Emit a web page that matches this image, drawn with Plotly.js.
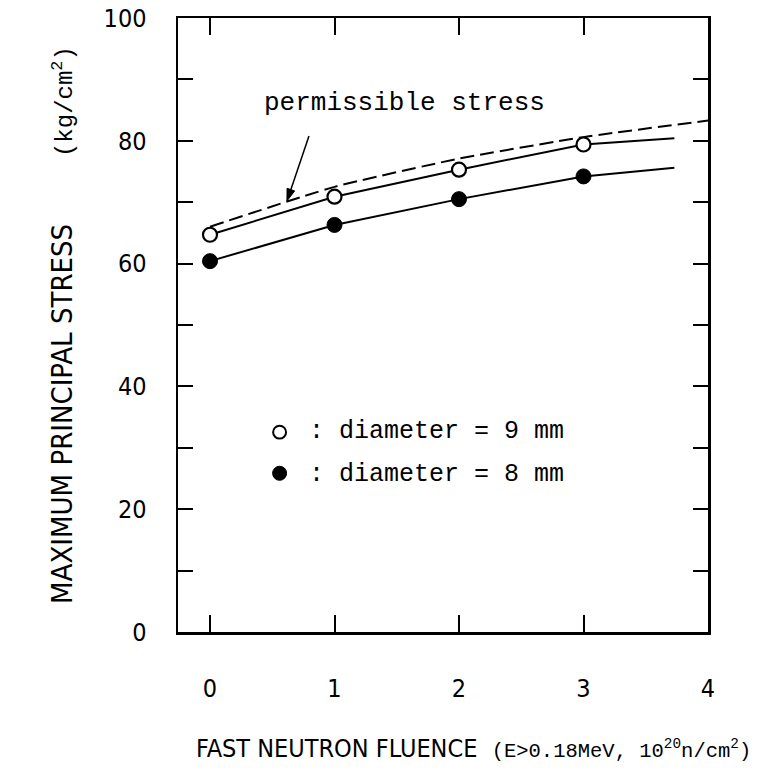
<!DOCTYPE html>
<html>
<head>
<meta charset="utf-8">
<script src="https://cdn.plot.ly/plotly-3.0.1.min.js"></script>
<style>html,body{margin:0;padding:0;background:#fff;}#chart{width:771px;height:774px;}</style>
</head>
<body>
<div id="chart"></div>
<script>
// Fast neutron fluence (10^20 n/cm^2)
const fluence = [0, 1, 2, 3];
const fluenceLineEnd = 3.73;            // solid curves continue past the last point
const stress9mm = [64.7, 70.9, 75.3, 79.4];
const stress9mmEnd = 80.4;
const stress8mm = [60.4, 66.3, 70.5, 74.2];
const stress8mmEnd = 75.6;
const permFluence = [0, 1, 2, 3, 4];
const permStress = [66.0, 72.5, 77.1, 80.6, 83.3];
const xTicks = [0, 1, 2, 3, 4];

const SANS = "'DejaVu Sans Condensed', 'Liberation Sans Narrow', 'DejaVu Sans', sans-serif";
const MONO = "'Liberation Mono', 'DejaVu Sans Mono', monospace";

const traces = [
  {
    x: permFluence, y: permStress, mode: 'lines', type: 'scatter',
    line: {color: '#000', width: 2, dash: '14px,6px', shape: 'spline', smoothing: 0.5},
    hoverinfo: 'skip', showlegend: false
  },
  {
    x: fluence.concat([fluenceLineEnd]), y: stress9mm.concat([stress9mmEnd]),
    mode: 'lines+markers', type: 'scatter',
    line: {color: '#000', width: 2},
    marker: {symbol: 'circle', size: fluence.map(() => 14).concat([0]), color: '#fff', opacity: 1,
             line: {color: '#000', width: 2.2}},
    showlegend: false
  },
  {
    x: fluence.concat([fluenceLineEnd]), y: stress8mm.concat([stress8mmEnd]),
    mode: 'lines+markers', type: 'scatter',
    line: {color: '#000', width: 2},
    marker: {symbol: 'circle', size: fluence.map(() => 15).concat([0]), color: '#000', opacity: 1,
             line: {color: '#000', width: 1}},
    showlegend: false
  }
];

// arrow pointing from the "permissible stress" label to the dashed curve
const arrowTail = {x: 0.795, y: 80.8};
const arrowHead = {x: 0.618, y: 70.2};

const layout = {
  width: 771, height: 774,
  margin: {l: 178, r: 63, t: 18, b: 142},
  paper_bgcolor: '#fff', plot_bgcolor: '#fff',
  showlegend: false,
  font: {family: SANS, color: '#000', size: 25},
  xaxis: {
    range: [-0.257, 4], tickvals: xTicks, ticktext: xTicks.map(String),
    ticks: 'inside', ticklen: 17, tickwidth: 2, tickcolor: '#000',
    showline: true, linewidth: 2.5, linecolor: '#000', mirror: 'ticks',
    showgrid: false, zeroline: false, ticklabelstandoff: 32,
    tickfont: {family: SANS, size: 25, color: '#000'}
  },
  yaxis: {
    range: [0, 100], tick0: 0, dtick: 20,
    ticks: 'inside', ticklen: 15, tickwidth: 2, tickcolor: '#000',
    minor: {dtick: 10, ticks: 'inside', ticklen: 15, tickwidth: 2, tickcolor: '#000', showgrid: false},
    showline: true, linewidth: 2.5, linecolor: '#000', mirror: 'ticks',
    showgrid: false, zeroline: false, ticklabelstandoff: 24,
    tickfont: {family: SANS, size: 25, color: '#000'}
  },
  shapes: [
    {type: 'circle', xref: 'x', yref: 'y', x0: 0.507, x1: 0.611, y0: 31.5, y1: 33.6,
     line: {color: '#000', width: 2}, fillcolor: '#fff'},
    {type: 'circle', xref: 'x', yref: 'y', x0: 0.503, x1: 0.615, y0: 24.7, y1: 27.0,
     line: {color: '#000', width: 1}, fillcolor: '#000'},
    {type: 'line', xref: 'x', yref: 'y', x0: arrowTail.x, y0: arrowTail.y, x1: 0.645, y1: 71.8,
     line: {color: '#000', width: 1.5}},
    {type: 'path', xref: 'x', yref: 'y',
     path: 'M ' + arrowHead.x + ',' + arrowHead.y + ' L 0.680,71.84 L 0.619,72.26 Z',
     line: {color: '#000', width: 1}, fillcolor: '#000'}
  ],
  annotations: [
    {x: 1.566, y: 86.2, xref: 'x', yref: 'y', text: 'permissible stress', showarrow: false,
     font: {family: MONO, size: 26, color: '#000'}, xanchor: 'center', yanchor: 'middle'},
    {x: 1.82, y: 32.6, xref: 'x', yref: 'y', text: ': diameter = 9 mm', showarrow: false,
     font: {family: MONO, size: 25, color: '#000'}, xanchor: 'center', yanchor: 'middle'},
    {x: 1.82, y: 25.7, xref: 'x', yref: 'y', text: ': diameter = 8 mm', showarrow: false,
     font: {family: MONO, size: 25, color: '#000'}, xanchor: 'center', yanchor: 'middle'},
    {x: -0.219, y: (632 - 414) / 614, xref: 'paper', yref: 'paper', textangle: -90, showarrow: false,
     xanchor: 'center', yanchor: 'middle',
     text: 'MAXIMUM PRINCIPAL STRESS',
     font: {family: SANS, size: 29, color: '#000'}},
    {x: -0.215, y: (632 - 102) / 614, xref: 'paper', yref: 'paper', textangle: -90, showarrow: false,
     xanchor: 'center', yanchor: 'middle',
     text: '(kg/cm<sup>2</sup>)',
     font: {family: MONO, size: 24, color: '#000'}},
    {x: 0.558, y: -0.189, xref: 'paper', yref: 'paper', showarrow: false,
     xanchor: 'center', yanchor: 'middle',
     text: 'FAST NEUTRON FLUENCE  <span style="font-family:Liberation Mono;font-size:20.5px">(E&gt;0.18MeV, 10<sup>20</sup>n/cm<sup>2</sup>)</span>',
     font: {family: SANS, size: 25, color: '#000'}}
  ]
};

Plotly.newPlot('chart', traces, layout, {displayModeBar: false, staticPlot: true});
</script>
</body>
</html>
